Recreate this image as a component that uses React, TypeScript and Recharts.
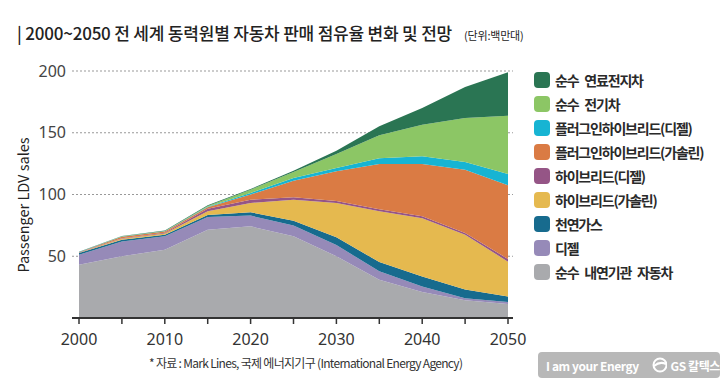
import { AreaChart, Area, XAxis, YAxis, CartesianGrid } from "recharts";

// 2000~2050, 5년 간격 (단위: 백만대)
const years = [2000, 2005, 2010, 2015, 2020, 2025, 2030, 2035, 2040, 2045, 2050];
const iceSales = [43.2, 50, 55.3, 71.5, 74.2, 66.1, 50, 31, 21, 14.3, 11.3];
const dieselSales = [8.1, 12, 10.8, 10.3, 8.7, 8.9, 9.1, 6.8, 4.6, 1.6, 1.7];
const cngSales = [1.3, 1.4, 1.4, 1.6, 2.7, 3.8, 6.2, 7.5, 8.1, 7.1, 4.5];
const hevGasSales = [0.3, 0.8, 1.0, 3.0, 7.5, 17.0, 27.8, 41.1, 47.0, 44.5, 28.1];
const hevDieselSales = [0.2, 0.3, 0.5, 2.1, 2.7, 1.9, 1.6, 1.6, 1.6, 1.3, 2.2];
const phevGasSales = [0.2, 1.3, 1.0, 1.1, 4.1, 13.5, 24.1, 36.7, 42.4, 51.3, 59.6];
const phevDieselSales = [0.1, 0.2, 0.2, 0.5, 1.3, 2.2, 2.7, 4.6, 6.2, 6.2, 9.2];
const bevSales = [0.1, 0.2, 0.3, 0.6, 2.7, 4.8, 11.3, 18.6, 25.6, 35.7, 47.2];
const fcevSales = [0.1, 0.2, 0.3, 0.5, 0.6, 1.1, 2.7, 7.3, 13.5, 25, 35.2];

const xTicks = [2000, 2005, 2010, 2015, 2020, 2025, 2030, 2035, 2040, 2045, 2050];
const yTicks = [50, 100, 150, 200];

// bottom → top stacking order
const series = [
  { key: "ice", name: "순수 내연기관 자동차", color: "#a9aaad", values: iceSales },
  { key: "diesel", name: "디젤", color: "#968ab8", values: dieselSales },
  { key: "cng", name: "천연가스", color: "#176b8e", values: cngSales },
  { key: "hevGas", name: "하이브리드(가솔린)", color: "#e5b94f", values: hevGasSales },
  { key: "hevDiesel", name: "하이브리드(디젤)", color: "#955586", values: hevDieselSales },
  { key: "phevGas", name: "플러그인하이브리드(가솔린)", color: "#da7b44", values: phevGasSales },
  { key: "phevDiesel", name: "플러그인하이브리드(디젤)", color: "#17b4d3", values: phevDieselSales },
  { key: "bev", name: "순수 전기차", color: "#8cc665", values: bevSales },
  { key: "fcev", name: "순수 연료전지차", color: "#2a7553", values: fcevSales },
];

const data = years.map((year, i) => {
  const row: Record<string, number> = { year };
  series.forEach((s) => (row[s.key] = s.values[i]));
  return row;
});

const FONT = "'Noto Sans', 'Noto Sans CJK KR', sans-serif";
const KR = "'Noto Sans CJK KR', sans-serif";

export default function App() {
  return (
    <div
      style={{
        position: "absolute", left: 0, top: 0, width: 726, height: 380,
        background: "#fff", overflow: "hidden", fontFamily: KR, color: "#222",
      }}
    >
      <div style={{ position: "absolute", left: 17, top: 20, fontSize: 17, fontWeight: 500, whiteSpace: "nowrap", letterSpacing: -0.2 }}>
        | 2000~2050 전 세계 동력원별 자동차 판매 점유율 변화 및 전망
        <span style={{ fontSize: 11, marginLeft: 12, fontWeight: 400 }}>(단위:백만대)</span>
      </div>

      <div
        style={{
          position: "absolute", left: 22, top: 205, fontSize: 14.5, fontFamily: KR, color: "#222",
          transform: "translate(-50%, -50%) rotate(-90deg)", whiteSpace: "nowrap",
        }}
      >
        Passenger LDV sales
      </div>

      <div style={{ position: "absolute", left: 0, top: 0 }}>
        <AreaChart width={726} height={380} data={data} margin={{ top: 71, right: 213, bottom: 32, left: 0 }}>
          <CartesianGrid vertical={false} stroke="#999" strokeDasharray="2 2" />
          <XAxis
            dataKey="year"
            type="number"
            domain={[2000, 2050]}
            ticks={xTicks}
            padding={{ left: 7, right: 5 }}
            tickFormatter={(v: number) => (v % 10 === 0 ? String(v) : "")}
            tick={{ fill: "#333", fontSize: 16, fontFamily: FONT }}
            axisLine={{ stroke: "#333", strokeWidth: 2 }}
            tickLine={{ stroke: "#333", strokeWidth: 1.5 }}
            tickSize={6}
            tickMargin={10}
            height={30}
          />
          <YAxis
            domain={[0, 200]}
            ticks={yTicks}
            width={72}
            axisLine={false}
            tickLine={false}
            tickSize={0}
            tickMargin={6}
            tick={{ fill: "#444", fontSize: 16, fontFamily: FONT }}
          />
          {series.map((s) => (
            <Area
              key={s.key}
              dataKey={s.key}
              name={s.name}
              stackId="1"
              type="linear"
              stroke="none"
              fill={s.color}
              fillOpacity={1}
              isAnimationActive={false}
            />
          ))}
        </AreaChart>
      </div>

      <div style={{ position: "absolute", left: 534, top: 68 }}>
        {[...series].reverse().map((s) => (
          <div key={s.key} style={{ display: "flex", alignItems: "center", height: 24 }}>
            <div style={{ width: 16, height: 16, borderRadius: 4, background: s.color, marginRight: 5 }} />
            <span style={{ fontSize: 14, fontWeight: 700, letterSpacing: -1.2, wordSpacing: 4, color: "#2a2a2a", whiteSpace: "nowrap" }}>
              {s.name}
            </span>
          </div>
        ))}
      </div>

      <div style={{ position: "absolute", left: 149, top: 354, fontSize: 12, color: "#333", whiteSpace: "nowrap", letterSpacing: -0.7 }}>
        * 자료 : Mark Lines, 국제 에너지기구 (International Energy Agency)
      </div>

      <div
        style={{
          position: "absolute", left: 538, top: 352, width: 182, height: 26, borderRadius: 4,
          background: "#b8b8b8", color: "#fff", display: "flex", alignItems: "center",
          fontSize: 12, fontWeight: 700, whiteSpace: "nowrap",
        }}
      >
        <span style={{ marginLeft: 8, letterSpacing: -0.4 }}>I am your Energy</span>
        <svg width={18} height={16} style={{ marginLeft: 12 }}>
          <circle cx={9} cy={8} r={6.5} fill="none" stroke="#fff" strokeWidth={2} />
          <path d="M3 9 Q9 4 15 7" stroke="#fff" strokeWidth={2} fill="none" />
        </svg>
        <span style={{ marginLeft: 3, letterSpacing: -0.4 }}>GS 칼텍스</span>
      </div>
    </div>
  );
}
